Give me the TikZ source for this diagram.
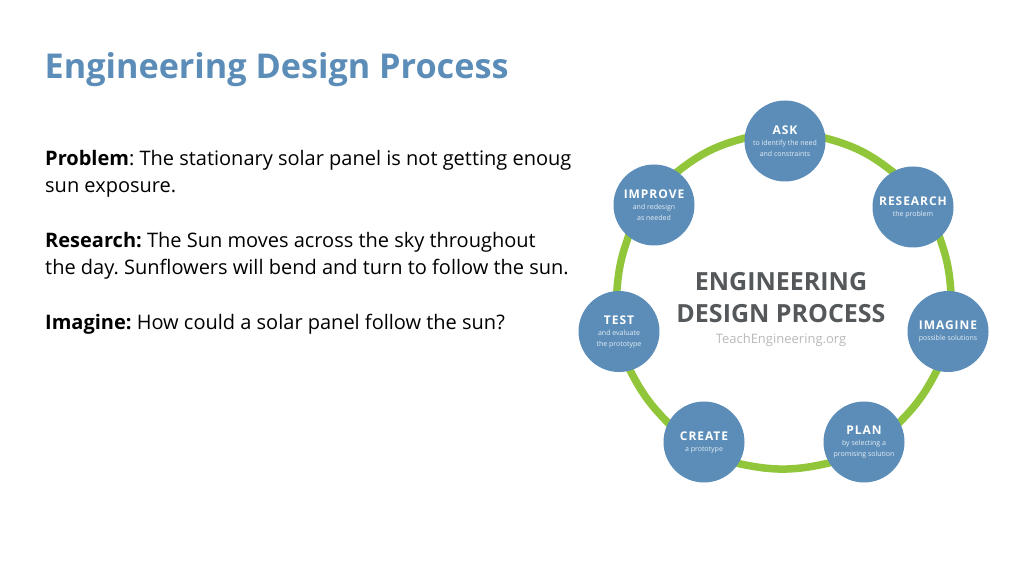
\documentclass[tikz,border=0pt]{standalone}
\usepackage{fontspec}
\setmainfont{Open Sans}
\newfontfamily\stepfont[LetterSpace=8]{Open Sans}
\definecolor{designblue}{RGB}{91,141,184}
\definecolor{designgreen}{RGB}{146,198,58}
\definecolor{designgray}{RGB}{85,88,90}
\usetikzlibrary{backgrounds}
\tikzset{
    stepnode/.style={circle, fill=designblue, minimum size=81pt, inner sep=0pt, align=center, text=white},
    ringarc/.style={designgreen, line width=7.5pt, shorten >=-3pt, shorten <=-3pt},
    bodyline/.style={anchor=base west, inner sep=0pt, font=\fontsize{20}{24}\selectfont\frenchspacing},
    bigline/.style={text=designgray, inner sep=0pt, anchor=base, font=\fontsize{25}{30}\selectfont\bfseries}
}
\newcommand{\steptitle}[1]{{\fontsize{12}{12}\selectfont\stepfont\bfseries #1}}
\newcommand{\stepsub}[1]{{\fontsize{7}{10}\selectfont\color{white!85!designblue} #1}}

\begin{document}
\begin{tikzpicture}[x=1pt, y=1pt]
    \useasboundingbox (0,0) rectangle (1024,576);
    % Left column
    \node[anchor=base west, inner sep=0pt, text=designblue, font=\fontsize{34.2}{40}\selectfont\bfseries] (title) at (44.5,497.5) {Engineering Design Process};
    \node[bodyline] (prob1) at (45,410.5) {\textbf{Problem}: The stationary solar panel is not getting enoug};
    \node[bodyline] (prob2) at (45,383.5) {sun exposure.};
    \node[bodyline] (res1) at (45,328.5) {\textbf{Research:} The Sun moves across the sky throughout};
    \node[bodyline] (res2) at (45,301) {the day. Sunflowers will bend and turn to follow the sun.};
    \node[bodyline] (ima1) at (45,246.5) {\textbf{Imagine:} How could a solar panel follow the sun?};

    % Seven steps
    \node[stepnode] (ask) at (785,435) {\steptitle{ASK}\\[-1pt]\stepsub{to identify the need}\\[-1pt]\stepsub{and constraints}};
    \node[stepnode] (research) at (913,369) {\steptitle{RESEARCH}\\[-1pt]\stepsub{the problem}};
    \node[stepnode] (imagine) at (948,244.5) {\steptitle{IMAGINE}\\[-1pt]\stepsub{possible solutions}};
    \node[stepnode] (plan) at (864,134) {\steptitle{PLAN}\\[-1pt]\stepsub{by selecting a}\\[-1pt]\stepsub{promising solution}};
    \node[stepnode] (create) at (704,134) {\steptitle{CREATE}\\[-1pt]\stepsub{a prototype}};
    \node[stepnode] (test) at (619,244.5) {\steptitle{TEST}\\[-1pt]\stepsub{and evaluate}\\[-1pt]\stepsub{the prototype}};
    \node[stepnode] (improve) at (654,371) {\steptitle{IMPROVE}\\[-1pt]\stepsub{and redesign}\\[-1pt]\stepsub{as needed}};

    % Ring behind the steps
    \begin{scope}[on background layer]
        \draw[ringarc] (ask.4) to[bend left=12] (research.120);
        \draw[ringarc] (research.-49) to[bend left=8] (imagine.86);
        \draw[ringarc] (imagine.-106) to[bend left=9] (plan.29);
        \draw[ringarc] (plan.-149) to[bend left=13] (create.-32);
        \draw[ringarc] (create.152) to[bend left=9] (test.-74);
        \draw[ringarc] (test.93) to[bend left=8] (improve.-129);
        \draw[ringarc] (improve.55) to[bend left=12] (ask.176);
    \end{scope}

    % Centre text
    \node[bigline] (big1) at (781,285) {ENGINEERING};
    \node[bigline] (big2) at (781,254) {DESIGN PROCESS};
    \node[anchor=base, inner sep=0pt, text=black!28, font=\fontsize{13}{15}\selectfont] (site) at (781,233) {TeachEngineering.org};
\end{tikzpicture}
\end{document}
